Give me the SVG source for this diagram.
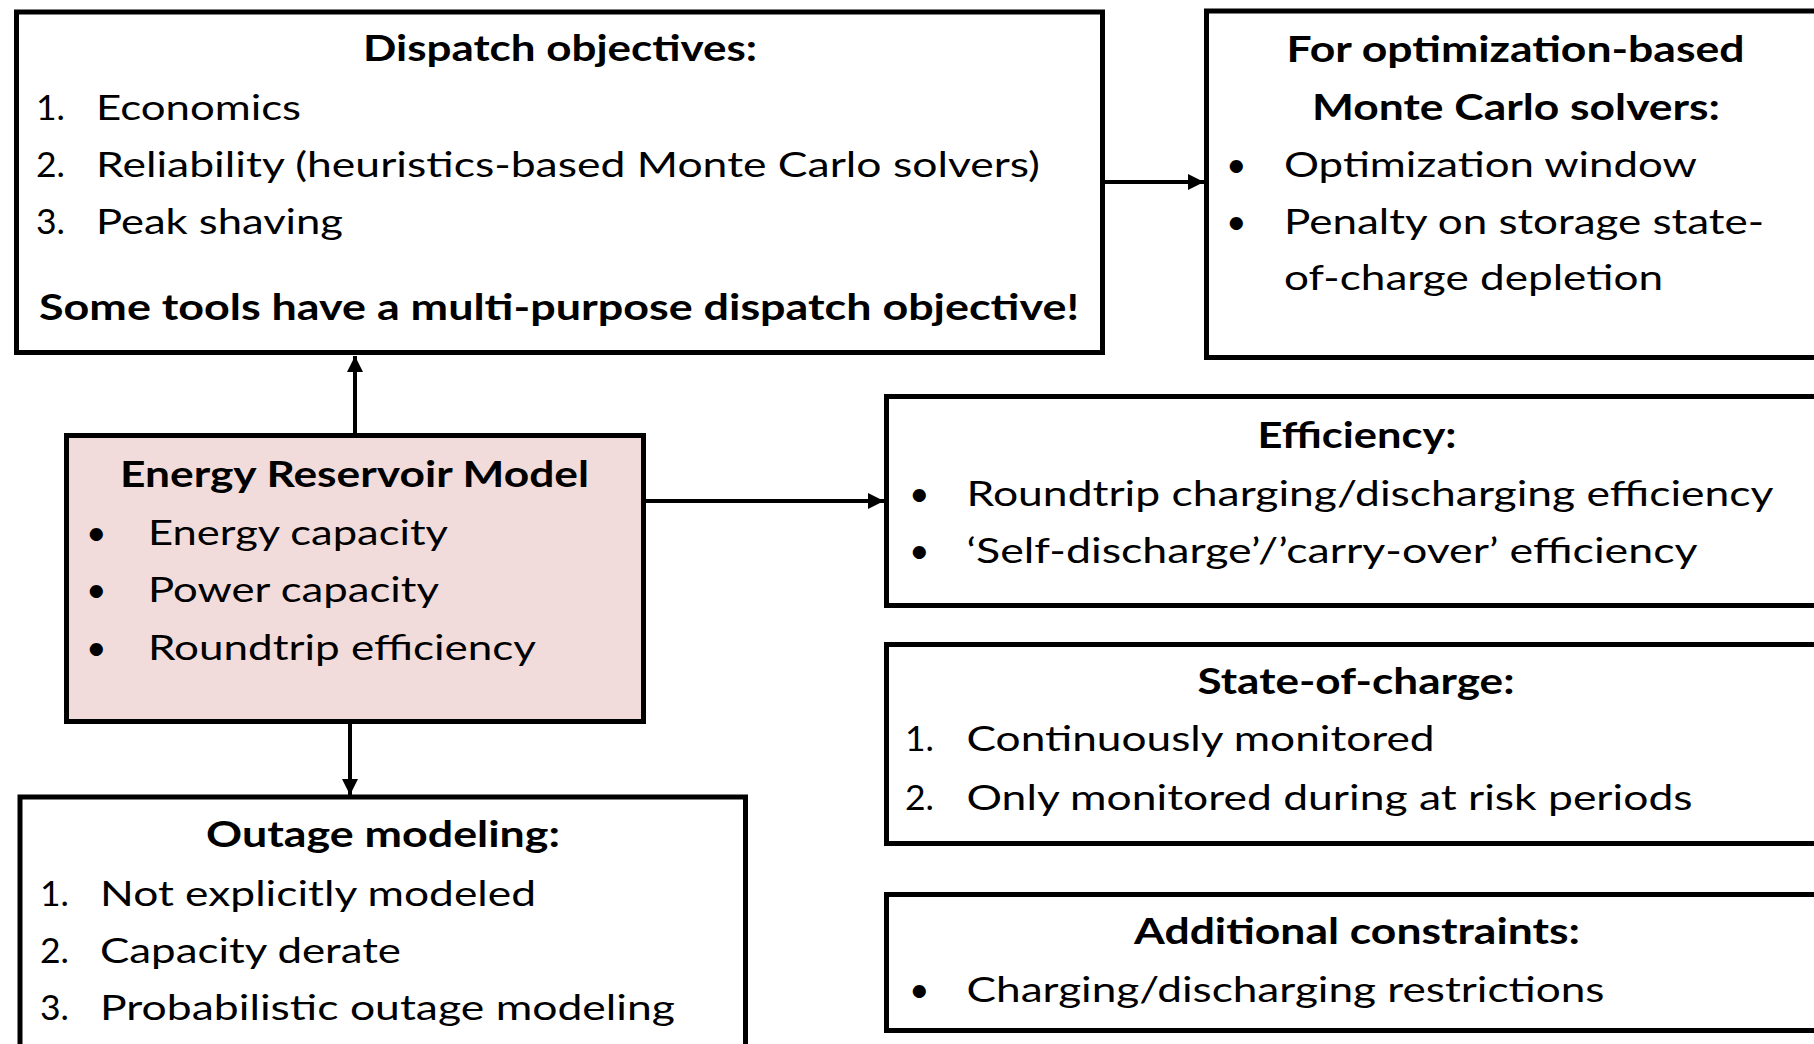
<svg xmlns="http://www.w3.org/2000/svg" width="1814" height="1044" viewBox="0 0 1814 1044">
<style>
.box{fill:#fff;stroke:#000;stroke-width:5}
.pink{fill:#F2DCDB}
.t{font-family:Lato,"Liberation Sans",sans-serif;font-size:35.5px;fill:#000}
.b{font-weight:bold}
.c{text-anchor:middle}
.con{stroke:#000;stroke-width:4;fill:none}
</style>
<defs>
<marker id="ah" markerUnits="userSpaceOnUse" markerWidth="16" markerHeight="16" refX="16" refY="8" orient="auto">
<path d="M0,0 L16,8 L0,16 z" fill="#000"/>
</marker>
</defs>
<rect width="1814" height="1044" fill="#fff"/>

<g id="connectors">
<line class="con" x1="355" y1="433" x2="355" y2="356" marker-end="url(#ah)"/>
<line class="con" x1="1105" y1="182" x2="1204" y2="182" marker-end="url(#ah)"/>
<line class="con" x1="646" y1="501" x2="884" y2="501" marker-end="url(#ah)"/>
<line class="con" x1="350" y1="724" x2="350" y2="795" marker-end="url(#ah)"/>
</g>

<g id="dispatch">
<rect class="box" x="16.5" y="12" width="1086" height="340.5"/>
<text class="t b c" x="560" y="61" textLength="394" lengthAdjust="spacingAndGlyphs">Dispatch objectives:</text>
<text class="t" x="36" y="120">1.</text>
<text class="t" x="96" y="120" textLength="205" lengthAdjust="spacingAndGlyphs">Economics</text>
<text class="t" x="36" y="177">2.</text>
<text class="t" x="96" y="177" textLength="944" lengthAdjust="spacingAndGlyphs">Reliability (heuristics-based Monte Carlo solvers)</text>
<text class="t" x="36" y="234">3.</text>
<text class="t" x="96" y="234" textLength="247" lengthAdjust="spacingAndGlyphs">Peak shaving</text>
<text class="t b" x="39" y="320" textLength="1040" lengthAdjust="spacingAndGlyphs">Some tools have a multi-purpose dispatch objective!</text>
</g>

<g id="optimization">
<rect class="box" x="1206.5" y="11" width="630" height="346.5"/>
<text class="t b c" x="1515.5" y="62" textLength="458" lengthAdjust="spacingAndGlyphs">For optimization-based</text>
<text class="t b c" x="1516" y="120" textLength="408" lengthAdjust="spacingAndGlyphs">Monte Carlo solvers:</text>
<text class="t" x="1226" y="177">•</text>
<text class="t" x="1284" y="177" textLength="413" lengthAdjust="spacingAndGlyphs">Optimization window</text>
<text class="t" x="1226" y="234">•</text>
<text class="t" x="1284" y="234" textLength="480" lengthAdjust="spacingAndGlyphs">Penalty on storage state-</text>
<text class="t" x="1284" y="290" textLength="379" lengthAdjust="spacingAndGlyphs">of-charge depletion</text>
</g>

<g id="energy">
<rect class="box pink" x="66.5" y="435.5" width="577" height="286"/>
<text class="t b c" x="354.5" y="487" textLength="469" lengthAdjust="spacingAndGlyphs">Energy Reservoir Model</text>
<text class="t" x="86" y="545">•</text>
<text class="t" x="148" y="545" textLength="300" lengthAdjust="spacingAndGlyphs">Energy capacity</text>
<text class="t" x="86" y="602">•</text>
<text class="t" x="148" y="602" textLength="291" lengthAdjust="spacingAndGlyphs">Power capacity</text>
<text class="t" x="86" y="660">•</text>
<text class="t" x="148" y="660" textLength="388" lengthAdjust="spacingAndGlyphs">Roundtrip efficiency</text>
</g>

<g id="efficiency">
<rect class="box" x="886.5" y="396.5" width="950" height="209"/>
<text class="t b c" x="1357" y="448" textLength="199" lengthAdjust="spacingAndGlyphs">Efficiency:</text>
<text class="t" x="909" y="506">•</text>
<text class="t" x="966.5" y="506" textLength="807" lengthAdjust="spacingAndGlyphs">Roundtrip charging/discharging efficiency</text>
<text class="t" x="909" y="563">•</text>
<text class="t" x="966.5" y="563" textLength="731" lengthAdjust="spacingAndGlyphs">‘Self-discharge’/’carry-over’ efficiency</text>
</g>

<g id="state-of-charge">
<rect class="box" x="886.5" y="644.5" width="950" height="199"/>
<text class="t b c" x="1356" y="694" textLength="317" lengthAdjust="spacingAndGlyphs">State-of-charge:</text>
<text class="t" x="905" y="751">1.</text>
<text class="t" x="966.5" y="751" textLength="468" lengthAdjust="spacingAndGlyphs">Continuously monitored</text>
<text class="t" x="905" y="810">2.</text>
<text class="t" x="966.5" y="810" textLength="726" lengthAdjust="spacingAndGlyphs">Only monitored during at risk periods</text>
</g>

<g id="additional">
<rect class="box" x="886.5" y="894.5" width="950" height="136"/>
<text class="t b c" x="1357" y="944" textLength="446" lengthAdjust="spacingAndGlyphs">Additional constraints:</text>
<text class="t" x="909" y="1002">•</text>
<text class="t" x="966.5" y="1002" textLength="638" lengthAdjust="spacingAndGlyphs">Charging/discharging restrictions</text>
</g>

<g id="outage">
<rect class="box" x="20" y="797" width="725.5" height="270"/>
<text class="t b c" x="383" y="847" textLength="354" lengthAdjust="spacingAndGlyphs">Outage modeling:</text>
<text class="t" x="40" y="906">1.</text>
<text class="t" x="100" y="906" textLength="436" lengthAdjust="spacingAndGlyphs">Not explicitly modeled</text>
<text class="t" x="40" y="963">2.</text>
<text class="t" x="100" y="963" textLength="301" lengthAdjust="spacingAndGlyphs">Capacity derate</text>
<text class="t" x="40" y="1020">3.</text>
<text class="t" x="100" y="1020" textLength="575" lengthAdjust="spacingAndGlyphs">Probabilistic outage modeling</text>
</g>
</svg>
